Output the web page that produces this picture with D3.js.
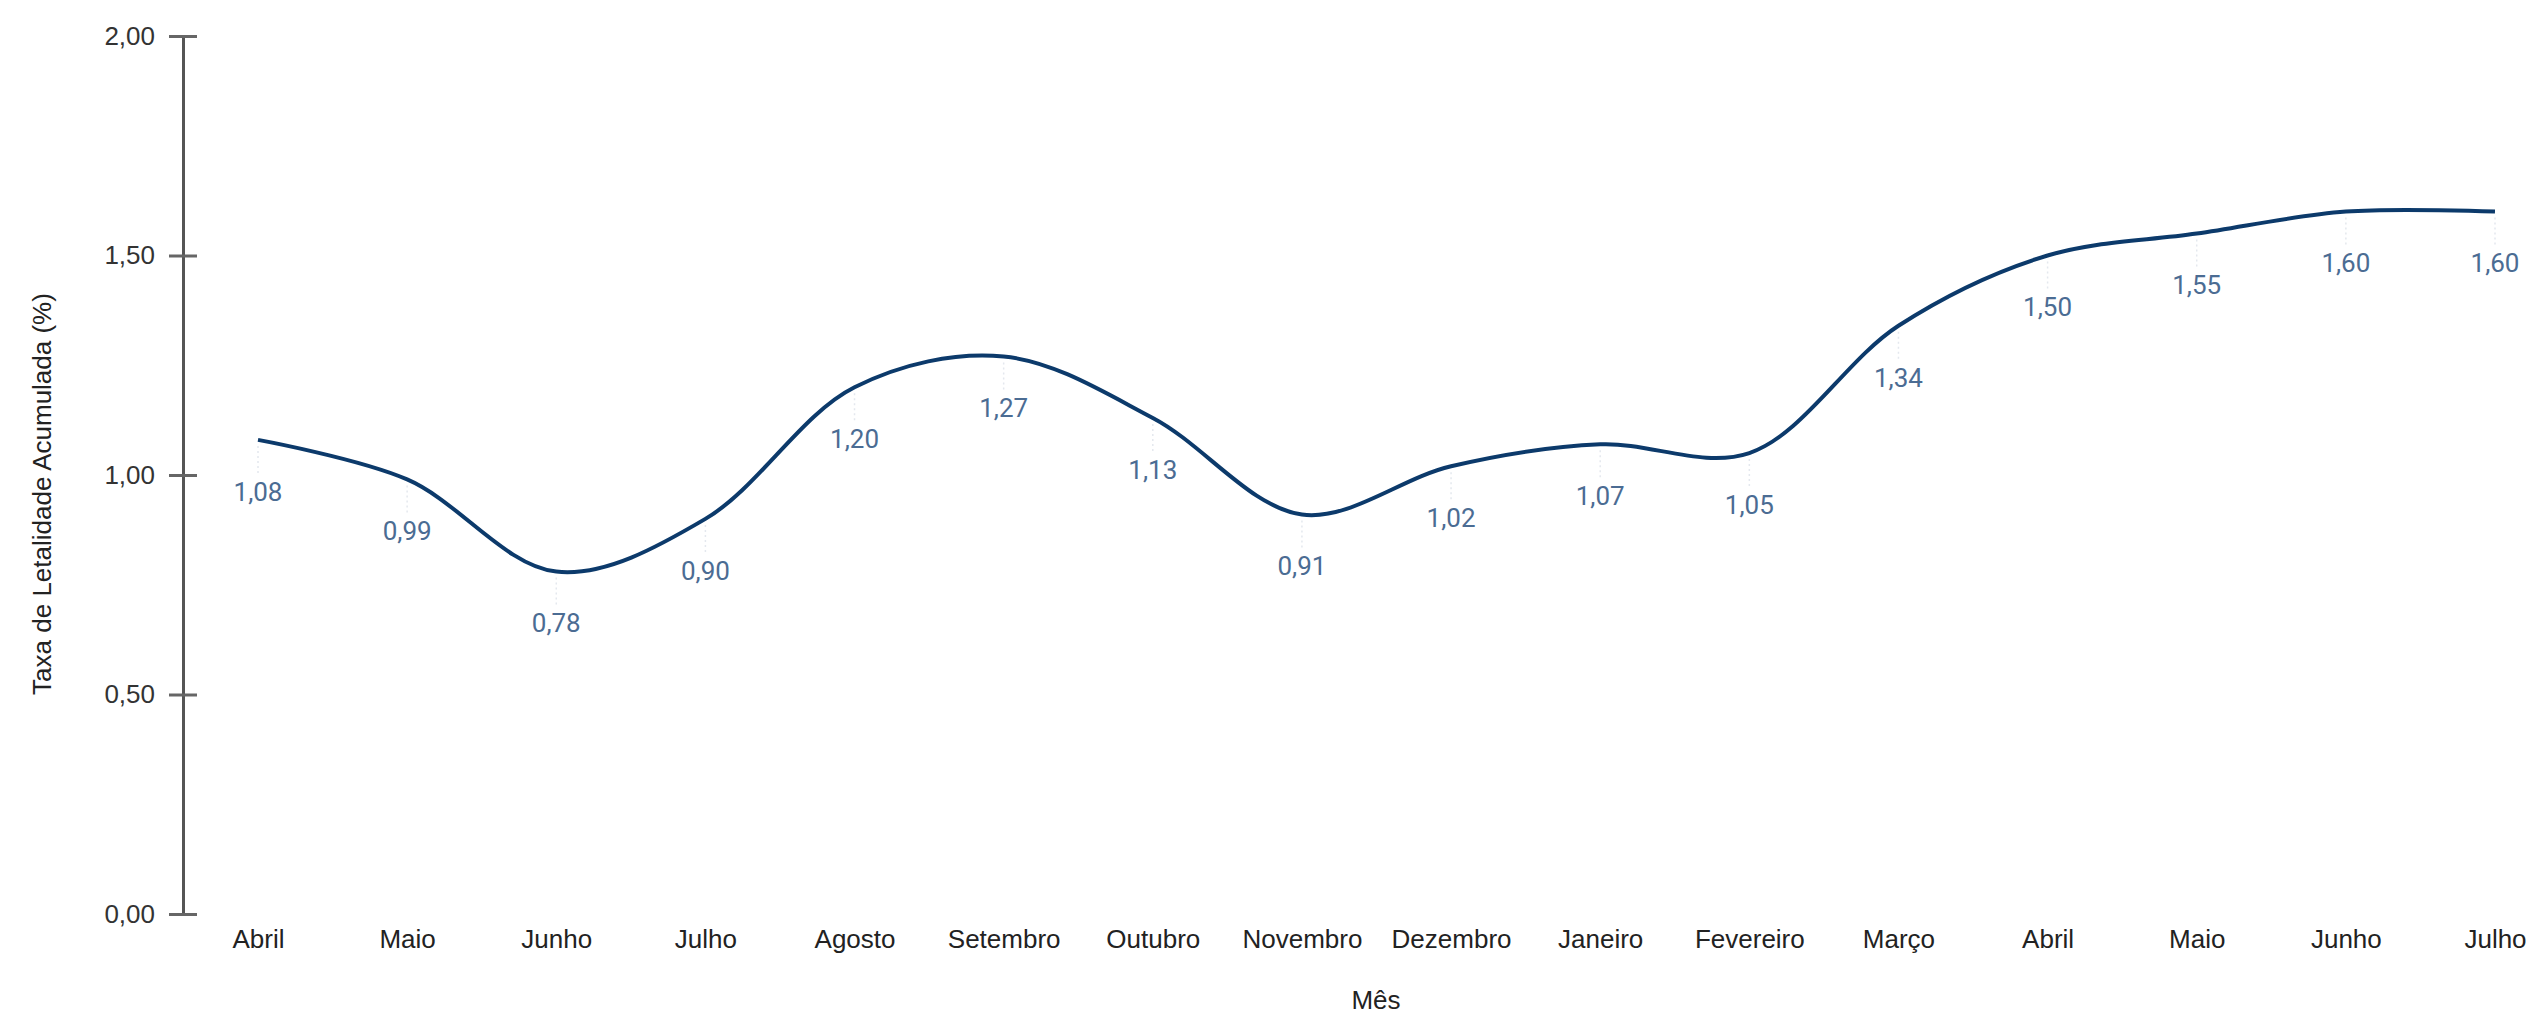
<!DOCTYPE html>
<html>
<head>
<meta charset="utf-8">
<script src="https://cdn.jsdelivr.net/npm/d3@7"></script>
<style>
  html, body { margin: 0; padding: 0; background: #fff; }
  svg { display: block; }
</style>
</head>
<body>
<svg id="chart" width="2530" height="1016"></svg>
<script>
const months = ["Abril","Maio","Junho","Julho","Agosto","Setembro","Outubro","Novembro","Dezembro","Janeiro","Fevereiro","Março","Abril","Maio","Junho","Julho"];
const rates = [1.08, 0.99, 0.78, 0.90, 1.20, 1.27, 1.13, 0.91, 1.02, 1.07, 1.05, 1.34, 1.50, 1.55, 1.60, 1.60];
const yTicks = [0, 0.5, 1.0, 1.5, 2.0];
const yTitle = "Taxa de Letalidade Acumulada (%)";
const xTitle = "Mês";

const svg = d3.select("#chart");
const locale = d3.formatLocale({decimal: ",", thousands: ".", grouping: [3], currency: ["R$", ""]});
const fmt = locale.format(".2f");

const axisX = 183;
const x = d3.scalePoint().domain(d3.range(months.length)).range([258, 2495]);
const y = d3.scaleLinear().domain([0, 2]).range([914, 36]);

const sans = "'Liberation Sans', Arial, sans-serif";

// Y axis
const gy = svg.append("g").attr("transform", `translate(${axisX},0)`)
  .call(d3.axisLeft(y).tickValues(yTicks).tickFormat(fmt).tickSizeInner(14).tickSizeOuter(0).tickPadding(14));
gy.select(".domain").attr("stroke", "#555").attr("stroke-width", 3);
gy.selectAll(".tick line").attr("x1", -14).attr("x2", 14).attr("stroke", "#666").attr("stroke-width", 3);
gy.selectAll(".tick text").attr("font-family", sans).attr("font-size", 26).attr("fill", "#333");

// X axis (labels only)
const gx = svg.append("g").attr("transform", `translate(0,914)`)
  .call(d3.axisBottom(x).tickFormat(i => months[i]).tickSize(0).tickPadding(16));
gx.select(".domain").remove();
gx.selectAll(".tick text").attr("font-family", sans).attr("font-size", 26).attr("fill", "#222");

// Axis titles
svg.append("text")
  .attr("transform", "translate(44,494) rotate(-90)")
  .attr("text-anchor", "middle").attr("dominant-baseline", "middle")
  .attr("font-family", sans).attr("font-size", 26).attr("fill", "#222")
  .text(yTitle);
svg.append("text")
  .attr("x", 1376).attr("y", 1002)
  .attr("text-anchor", "middle").attr("dominant-baseline", "middle")
  .attr("font-family", sans).attr("font-size", 26).attr("fill", "#222")
  .text(xTitle);

// Leader lines
svg.append("g").selectAll("line").data(rates).join("line")
  .attr("x1", (d, i) => x(i)).attr("x2", (d, i) => x(i))
  .attr("y1", d => y(d) + 6).attr("y2", d => y(d) + 36)
  .attr("stroke", "#e4e8ee").attr("stroke-width", 1.5).attr("stroke-dasharray", "2,3");

// Line
const line = d3.line().x((d, i) => x(i)).y(d => y(d)).curve(d3.curveCatmullRom.alpha(0.5));
svg.append("path").datum(rates)
  .attr("d", line).attr("fill", "none")
  .attr("stroke", "#0c3a6b").attr("stroke-width", 4)
  .attr("stroke-linejoin", "round").attr("stroke-linecap", "butt");

// Data labels
svg.append("g").selectAll("text").data(rates).join("text")
  .attr("x", (d, i) => x(i)).attr("y", d => y(d) + 54)
  .attr("text-anchor", "middle").attr("dominant-baseline", "middle")
  .attr("font-family", "Roboto, 'Liberation Sans', sans-serif").attr("font-size", 26)
  .attr("fill", "#4b6c93")
  .text(d => fmt(d));
</script>
</body>
</html>
